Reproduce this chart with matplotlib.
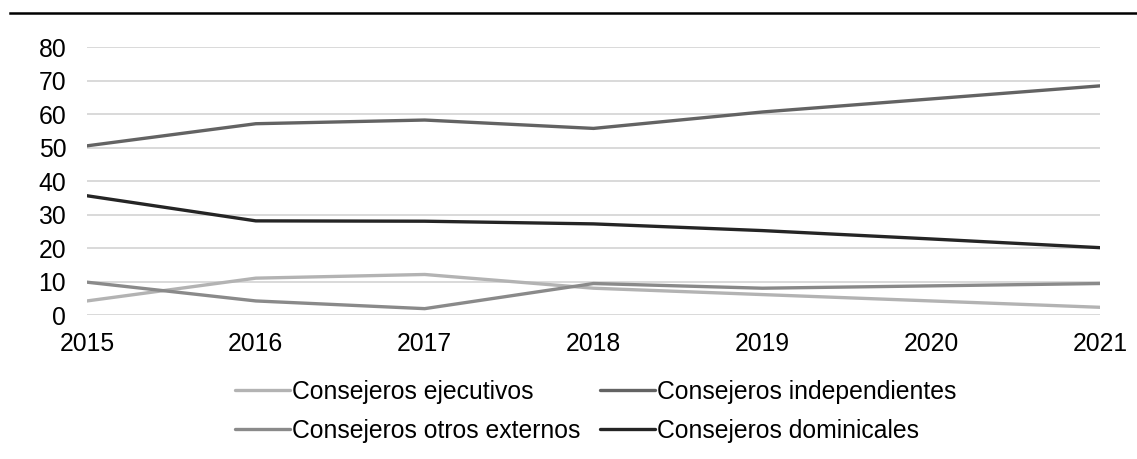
import numpy as np
import matplotlib.pyplot as plt
from matplotlib.lines import Line2D

plt.rcParams['font.family'] = ['Liberation Sans', 'DejaVu Sans']

#
# values
years = [2015, 2016, 2017, 2018, 2019, 2020, 2021]
ejecutivos      = [4.2, 11.0, 12.1, 8.0, 6.1, 4.2, 2.3]
independientes  = [50.5, 57.1, 58.2, 55.7, 60.6, 64.5, 68.4]
otros_externos  = [9.8, 4.2, 1.9, 9.4, 8.0, 8.7, 9.4]
dominicales     = [35.6, 28.1, 28.0, 27.2, 25.2, 22.7, 20.1]

series = [
    ('Consejeros ejecutivos',      ejecutivos,     '#b3b3b3'),
    ('Consejeros otros externos',  otros_externos, '#8a8a8a'),
    ('Consejeros independientes',  independientes, '#636363'),
    ('Consejeros dominicales',     dominicales,    '#252525'),
]

fig = plt.figure(figsize=(11.37, 4.59), dpi=100)
ax = fig.add_axes([0.0765, 0.3137, 0.891, 0.5839])

handles = []
for name, vals, col in series:
    h, = ax.plot(years, vals, color=col, lw=2.4, label=name,
                 solid_capstyle='round', zorder=3)
    handles.append(h)

ax.set_xlim(2015, 2021)
ax.set_ylim(0, 80)
ax.set_yticks(np.arange(0, 81, 10))
ax.set_xticks(years)
ax.grid(axis='y', color='#d9d9d9', lw=1.4, zorder=0)
for s in ax.spines.values():
    s.set_visible(False)
ax.tick_params(axis='both', length=0, labelsize=17.8, colors='black')
ax.tick_params(axis='y', pad=15)
ax.tick_params(axis='x', pad=12)

#
# legend: two rows, two columns
leg = fig.legend(handles=handles, loc='upper center', ncol=2,
                 bbox_to_anchor=(0.524, 0.2), frameon=False,
                 fontsize=17.8, handlelength=2.2, handletextpad=0.1,
                 columnspacing=0.8, labelspacing=0.62, borderpad=0)

#
# black rule at the top
fig.add_artist(Line2D([10/1137, 1.0], [1 - 13/459, 1 - 13/459],
                      color='black', lw=1.8, transform=fig.transFigure))

fig.savefig('out.png', dpi=100)
plt.close()
